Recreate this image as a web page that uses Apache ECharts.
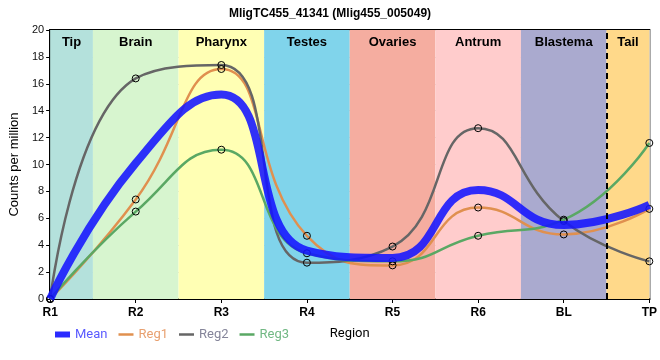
<!DOCTYPE html>
<html><head><meta charset="utf-8">
<script src="https://cdn.jsdelivr.net/npm/echarts@6/dist/echarts.min.js"></script>
<style>html,body{margin:0;padding:0;background:#fff}#c{width:660px;height:360px}</style>
</head><body><div id="c"></div>
<script>
var categories = ['R1','R2','R3','R4','R5','R6','BL','TP'];
var meanVals = [0, 10.1, 15.2, 3.6, 3.05, 8.1, 5.5, 7.0];
var reg1Vals = [0, 7.4, 17.1, 4.7, 2.5, 6.8, 4.8, 6.7];
var reg2Vals = [0, 16.4, 17.4, 2.7, 3.9, 12.7, 5.8, 2.8];
var reg3Vals = [0, 6.5, 11.1, 3.4, 2.8, 4.7, 5.9, 11.6];
var bandNames = ['Tip','Brain','Pharynx','Testes','Ovaries','Antrum','Blastema','Tail'];
var bandStart = [0, 0.5, 1.5, 2.5, 3.5, 4.5, 5.5, 6.5];
var bandEnd = [0.5, 1.5, 2.5, 3.5, 4.5, 5.5, 6.5, 7];
var bandColors = ['#b4e1dc','#d7f5cf','#ffffb4','#80d4eb','#f5ada0','#ffcccc','#aaaacf','#ffd98a'];
var yTicks = [0,2,4,6,8,10,12,14,16,18,20];

function pts(v){ return v.map(function(y,i){ return [i,y]; }); }
var font = 'Liberation Sans, Arial, sans-serif';

var bands = bandNames.map(function(n,i){
  return [{name:n, xAxis:bandStart[i], itemStyle:{color:bandColors[i]}}, {xAxis:bandEnd[i]}];
});

var hollow = {color:'rgba(0,0,0,0)', borderColor:'#000', borderWidth:1};

var chart = echarts.init(document.getElementById('c'));
chart.setOption({
  animation:false,
  title:{text:'MligTC455_41341 (Mlig455_005049)', left:'center', top:3,
    textStyle:{fontFamily:font, fontSize:12, fontWeight:'bold', color:'#000'}},
  grid:{left:50, right:8, top:30, bottom:61, show:true, borderColor:'#000', borderWidth:2, backgroundColor:'transparent'},
  legend:{left:50, top:323, itemWidth:15, itemHeight:7, itemGap:11,
    textStyle:{fontFamily:'Roboto, sans-serif', fontSize:13},
    data:[
      {name:'Mean', icon:'path://M0,0h15v6h-15z', itemStyle:{color:'#2a2aff', borderWidth:0}, textStyle:{color:'#5a5aff'}},
      {name:'Reg1', icon:'path://M0,0h15v2.5h-15z', itemStyle:{color:'#e0904f', borderWidth:0}, textStyle:{color:'#e8a070'}},
      {name:'Reg2', icon:'path://M0,0h15v2.5h-15z', itemStyle:{color:'#666', borderWidth:0}, textStyle:{color:'#85859a'}},
      {name:'Reg3', icon:'path://M0,0h15v2.5h-15z', itemStyle:{color:'#5aa864', borderWidth:0}, textStyle:{color:'#72b884'}}
    ]},
  xAxis:{type:'value', min:0, max:7, interval:1, name:'Region', nameLocation:'middle', nameGap:28,
    nameTextStyle:{fontFamily:'Roboto, sans-serif', fontSize:13, color:'#000'},
    axisLine:{lineStyle:{color:'#000', width:2}},
    axisTick:{show:true, length:4, lineStyle:{color:'#000'}},
    axisLabel:{formatter:function(v){return categories[v]||'';}, fontFamily:font, fontWeight:'bold', fontSize:12, color:'#000', margin:8},
    splitLine:{show:true, lineStyle:{color:'#c8c8c8', width:1}}},
  yAxis:{type:'value', min:0, max:20, interval:2, name:'Counts per million', nameLocation:'middle', nameGap:22,
    nameTextStyle:{fontFamily:font, fontSize:13, color:'#000'},
    axisLine:{show:true, lineStyle:{color:'#000', width:2}},
    axisTick:{show:true, length:4, lineStyle:{color:'#000'}},
    axisLabel:{fontFamily:font, fontSize:11, color:'#111', margin:6,
      formatter:function(v){return yTicks.indexOf(v)>=0?String(v):'';}},
    splitLine:{show:true, lineStyle:{color:'#c8c8c8', width:1}}},
  series:[
    {name:'bands', type:'line', data:[], z:-1, silent:true,
      markArea:{silent:true, label:{show:true, position:'insideTop', distance:6, fontFamily:font, fontWeight:'bold', fontSize:13, color:'#000'},
        data:bands},
      markLine:{silent:true, symbol:'none', label:{show:false},
        lineStyle:{color:'#000', type:[6,4], width:2},
        data:[{xAxis:bandStart[7]}]}},
    {name:'Reg1', type:'line', data:pts(reg1Vals), smooth:0.5, symbol:'circle', symbolSize:7,
      lineStyle:{color:'#e0904f', width:2.5}, itemStyle:hollow, z:3},
    {name:'Reg2', type:'line', data:pts(reg2Vals), smooth:0.5, symbol:'circle', symbolSize:7,
      lineStyle:{color:'#666', width:2.5}, itemStyle:hollow, z:3},
    {name:'Reg3', type:'line', data:pts(reg3Vals), smooth:0.5, symbol:'circle', symbolSize:7,
      lineStyle:{color:'#5aa864', width:2.5}, itemStyle:hollow, z:3},
    {name:'Mean', type:'line', data:pts(meanVals), smooth:0.5, showSymbol:false, symbol:'none',
      lineStyle:{color:'rgba(20,20,255,0.88)', width:8}, itemStyle:{color:'#2a2aff'}, z:4}
  ]
});
</script></body></html>
